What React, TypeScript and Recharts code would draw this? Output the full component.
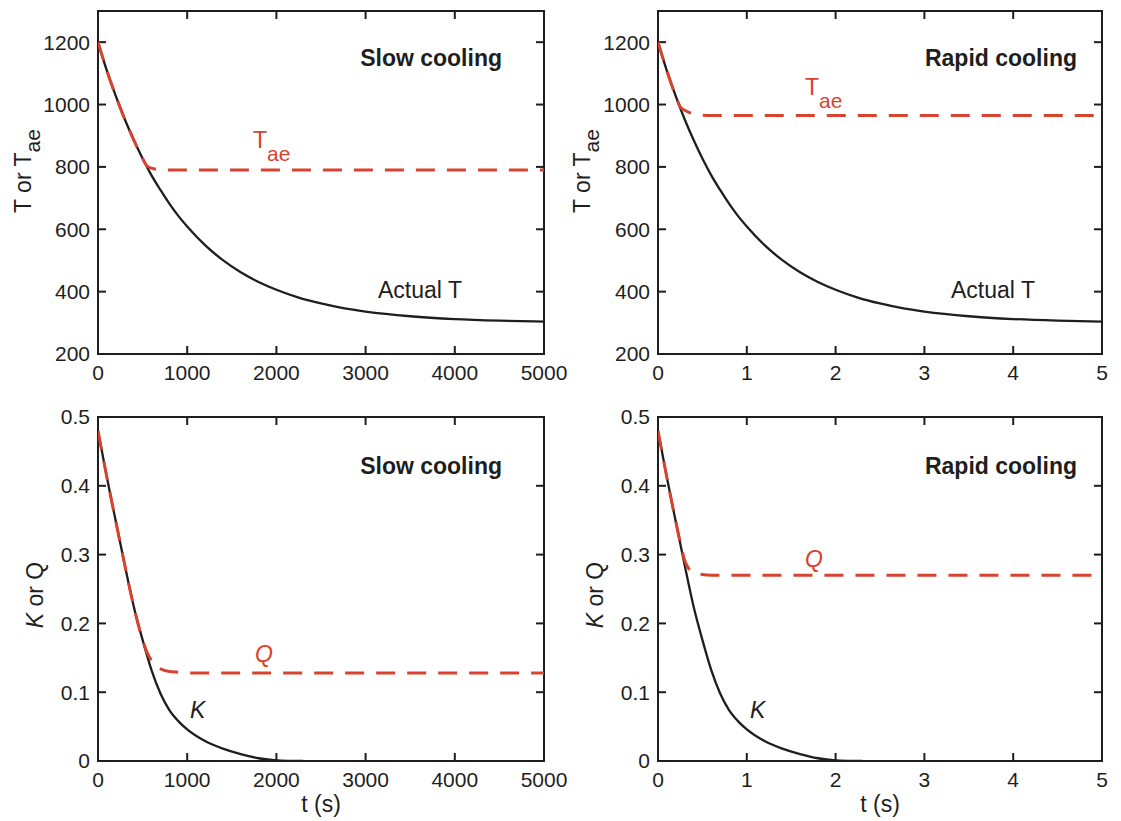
import React from "react";
import { Line, LineChart, ReferenceArea, ReferenceLine, XAxis, YAxis } from "recharts";

const FONT = "'Liberation Sans', Arial, Helvetica, sans-serif";
const INK = "#1e1e1e";
const RED = "#d8432f";
const TICK_PX = 8;

// slow cooling (t in s)
const slowTTime = [0, 100, 200, 300, 400, 500, 600, 700, 800, 900, 1000, 1200, 1400, 1600, 1800, 2000, 2250, 2500, 2750, 3000, 3500, 4000, 4500, 5000];
const slowActualT = [1200, 1108, 1027, 953, 887, 827, 773, 726, 682, 643, 609, 549, 501, 462, 431, 406, 381, 362, 347, 336, 321, 312, 307, 304];
const slowTaeTime = [0, 100, 200, 300, 400, 500, 550, 600, 700, 800, 1000, 2000, 3000, 4000, 5000];
const slowTae = [1200, 1108, 1027, 953, 887, 827, 803, 796, 791, 790, 790, 790, 790, 790, 790];
const slowKTime = [0, 100, 200, 300, 400, 500, 600, 700, 800, 900, 1000, 1200, 1400, 1600, 1800, 2000, 2300];
const slowK = [0.48, 0.412, 0.348, 0.285, 0.225, 0.176, 0.132, 0.098, 0.074, 0.058, 0.046, 0.029, 0.018, 0.01, 0.004, 0.001, 0];
const slowQTime = [0, 100, 200, 300, 400, 500, 550, 600, 700, 800, 900, 1000, 2000, 3000, 4000, 5000];
const slowQ = [0.48, 0.412, 0.348, 0.285, 0.225, 0.176, 0.158, 0.146, 0.134, 0.13, 0.129, 0.128, 0.128, 0.128, 0.128, 0.128];

// rapid cooling (t in s)
const rapidTTime = [0, 0.1, 0.2, 0.3, 0.4, 0.5, 0.6, 0.7, 0.8, 0.9, 1, 1.2, 1.4, 1.6, 1.8, 2, 2.25, 2.5, 2.75, 3, 3.5, 4, 4.5, 5];
const rapidActualT = [1200, 1108, 1027, 953, 887, 827, 773, 726, 682, 643, 609, 549, 501, 462, 431, 406, 381, 362, 347, 336, 321, 312, 307, 304];
const rapidTaeTime = [0, 0.1, 0.2, 0.25, 0.3, 0.35, 0.4, 0.45, 0.5, 0.6, 1, 2, 3, 4, 5];
const rapidTae = [1200, 1108, 1027, 993, 982, 975, 970, 967, 966, 965, 965, 965, 965, 965, 965];
const rapidKTime = [0, 0.1, 0.2, 0.3, 0.4, 0.5, 0.6, 0.7, 0.8, 0.9, 1, 1.2, 1.4, 1.6, 1.8, 2, 2.3];
const rapidK = [0.48, 0.412, 0.348, 0.285, 0.225, 0.176, 0.132, 0.098, 0.074, 0.058, 0.046, 0.029, 0.018, 0.01, 0.004, 0.001, 0];
const rapidQTime = [0, 0.1, 0.2, 0.25, 0.3, 0.35, 0.4, 0.5, 0.6, 1, 2, 3, 4, 5];
const rapidQ = [0.48, 0.412, 0.348, 0.318, 0.292, 0.279, 0.274, 0.271, 0.27, 0.27, 0.27, 0.27, 0.27, 0.27];

const slowTicks = [0, 1000, 2000, 3000, 4000, 5000];
const rapidTicks = [0, 1, 2, 3, 4, 5];
const tempTicks = [200, 400, 600, 800, 1000, 1200];
const kqTicks = [0, 0.1, 0.2, 0.3, 0.4, 0.5];

type Pt = { t: number; v: number };
const zip = (ts: number[], vs: number[]): Pt[] => ts.map((t, i) => ({ t, v: vs[i] }));

type PanelProps = {
  left: number;
  top: number;
  width: number;
  height: number;
  margin: { top: number; right: number; left: number; bottom: number };
  xAxisHeight: number;
  xTicks: number[];
  yTicks: number[];
  yDomain: [number, number];
  black: Pt[];
  red: Pt[];
  children?: React.ReactNode;
};

const tickStyle = { fontSize: 21, fill: INK, fontFamily: FONT };

function Panel({ left, top, width, height, margin, xAxisHeight, xTicks, yTicks, yDomain, black, red, children }: PanelProps) {
  const xDomain: [number, number] = [xTicks[0], xTicks[xTicks.length - 1]];
  const [x0, x1] = xDomain;
  const [y0, y1] = yDomain;
  // inward tick length expressed in data units of the other axis
  const plotW = width - margin.left - margin.right - 98;
  const plotH = height - margin.top - margin.bottom - xAxisHeight;
  const dx = (TICK_PX / plotW) * (x1 - x0);
  const dy = (TICK_PX / plotH) * (y1 - y0);
  const seg = { stroke: INK, strokeWidth: 2, ifOverflow: "visible" as const };
  return (
    <div style={{ position: "absolute", left, top, width, height }}>
      <LineChart width={width} height={height} margin={margin}>
        <XAxis dataKey="t" type="number" domain={xDomain} ticks={xTicks} allowDataOverflow interval={0}
          height={xAxisHeight} tickSize={0} tickMargin={11} tickLine={false} axisLine={false} tick={tickStyle} />
        <YAxis type="number" domain={yDomain} ticks={yTicks} allowDataOverflow interval={0}
          width={98} tickSize={0} tickMargin={8} tickLine={false} axisLine={false} tick={tickStyle} />
        {xTicks.slice(1, -1).map((v) => (
          <ReferenceLine key={`xb${v}`} segment={[{ x: v, y: y0 }, { x: v, y: y0 + dy }]} {...seg} />
        ))}
        {xTicks.slice(1, -1).map((v) => (
          <ReferenceLine key={`xt${v}`} segment={[{ x: v, y: y1 }, { x: v, y: y1 - dy }]} {...seg} />
        ))}
        {yTicks.filter((v) => v > y0 && v < y1).map((v) => (
          <ReferenceLine key={`yl${v}`} segment={[{ x: x0, y: v }, { x: x0 + dx, y: v }]} {...seg} />
        ))}
        {yTicks.filter((v) => v > y0 && v < y1).map((v) => (
          <ReferenceLine key={`yr${v}`} segment={[{ x: x1, y: v }, { x: x1 - dx, y: v }]} {...seg} />
        ))}
        <ReferenceArea x1={x0} x2={x1} y1={y0} y2={y1} fill="none" fillOpacity={0}
          stroke={INK} strokeWidth={2} ifOverflow="visible" />
        <Line data={black} dataKey="v" type="monotone" stroke={INK}
          strokeWidth={2.3} dot={false} activeDot={false} isAnimationActive={false} />
        <Line data={red} dataKey="v" type="monotone" stroke={RED}
          strokeWidth={3} strokeDasharray="19 12" dot={false} activeDot={false} isAnimationActive={false} />
        {children}
      </LineChart>
    </div>
  );
}

const txt = { fontFamily: FONT, fill: INK };

export default function App() {
  return (
    <div style={{ position: "absolute", left: 0, top: 0, width: 1121, height: 821, background: "#fff" }}>
      <Panel left={0} top={0} width={580} height={400} margin={{ top: 11, right: 36, left: 0, bottom: 0 }}
        xAxisHeight={46} xTicks={slowTicks} yTicks={tempTicks} yDomain={[200, 1300]}
        black={zip(slowTTime, slowActualT)} red={zip(slowTaeTime, slowTae)}>
        <text x={502} y={66} textAnchor="end" fontSize={23} fontWeight="bold" {...txt}>Slow cooling</text>
        <text x={378} y={298} fontSize={23} {...txt}>Actual T</text>
        <text x={253} y={148} fontSize={23} fontFamily={FONT} fill={RED}>
          T<tspan dy={13} fontSize={21}>ae</tspan>
        </text>
        <text transform="translate(31,171) rotate(-90)" textAnchor="middle" fontSize={23} {...txt}>
          T or T<tspan dy={9} fontSize={21}>ae</tspan>
        </text>
      </Panel>

      <Panel left={560} top={0} width={561} height={400} margin={{ top: 11, right: 19, left: 0, bottom: 0 }}
        xAxisHeight={46} xTicks={rapidTicks} yTicks={tempTicks} yDomain={[200, 1300]}
        black={zip(rapidTTime, rapidActualT)} red={zip(rapidTaeTime, rapidTae)}>
        <text x={517} y={66} textAnchor="end" fontSize={23} fontWeight="bold" {...txt}>Rapid cooling</text>
        <text x={391} y={298} fontSize={23} {...txt}>Actual T</text>
        <text x={245} y={95} fontSize={23} fontFamily={FONT} fill={RED}>
          T<tspan dy={13} fontSize={21}>ae</tspan>
        </text>
        <text transform="translate(30,171) rotate(-90)" textAnchor="middle" fontSize={23} {...txt}>
          T or T<tspan dy={9} fontSize={21}>ae</tspan>
        </text>
      </Panel>

      <Panel left={0} top={400} width={580} height={421} margin={{ top: 17, right: 36, left: 0, bottom: 0 }}
        xAxisHeight={60} xTicks={slowTicks} yTicks={kqTicks} yDomain={[0, 0.5]}
        black={zip(slowKTime, slowK)} red={zip(slowQTime, slowQ)}>
        <text x={502} y={74} textAnchor="end" fontSize={23} fontWeight="bold" {...txt}>Slow cooling</text>
        <text x={255} y={262} fontSize={23} fontStyle="italic" fontFamily={FONT} fill={RED}>Q</text>
        <text x={190} y={318} fontSize={23} fontStyle="italic" {...txt}>K</text>
        <text transform="translate(43,195) rotate(-90)" textAnchor="middle" fontSize={23} {...txt}>
          <tspan fontStyle="italic">K</tspan> or Q
        </text>
        <text x={321} y={412} textAnchor="middle" fontSize={23} {...txt}>t (s)</text>
      </Panel>

      <Panel left={560} top={400} width={561} height={421} margin={{ top: 17, right: 19, left: 0, bottom: 0 }}
        xAxisHeight={60} xTicks={rapidTicks} yTicks={kqTicks} yDomain={[0, 0.5]}
        black={zip(rapidKTime, rapidK)} red={zip(rapidQTime, rapidQ)}>
        <text x={517} y={74} textAnchor="end" fontSize={23} fontWeight="bold" {...txt}>Rapid cooling</text>
        <text x={245} y={167} fontSize={23} fontStyle="italic" fontFamily={FONT} fill={RED}>Q</text>
        <text x={190} y={318} fontSize={23} fontStyle="italic" {...txt}>K</text>
        <text transform="translate(43,195) rotate(-90)" textAnchor="middle" fontSize={23} {...txt}>
          <tspan fontStyle="italic">K</tspan> or Q
        </text>
        <text x={320} y={412} textAnchor="middle" fontSize={23} {...txt}>t (s)</text>
      </Panel>
    </div>
  );
}
